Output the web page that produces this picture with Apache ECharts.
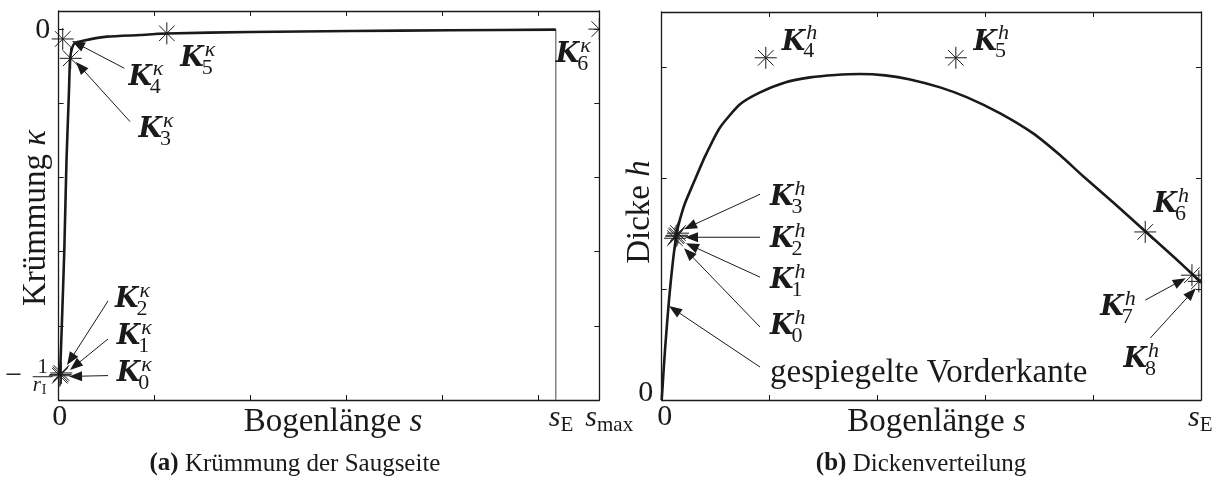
<!DOCTYPE html>
<html><head><meta charset="utf-8">
<script src="https://cdn.jsdelivr.net/npm/echarts@6.0.0/dist/echarts.min.js"></script>
<style>html,body{margin:0;padding:0;background:#fff}#c{width:1223px;height:482px}</style>
</head><body><div id="c"></div>
<script>
// ===== Panel (a): Krümmung der Saugseite (values in tick units) =====
const kapS = [0.0136,0.0345,0.0585,0.0815,0.1076,0.118,0.139,0.170,0.254,0.505,0.850,1.132,2.0,3.044,4.089,5.186];
const kapV = [-4.671,-3.920,-2.977,-1.764,-0.821,-0.416,-0.256,-0.187,-0.156,-0.102,-0.080,-0.059,-0.039,-0.026,-0.016,-0.007];
const kapCtrlS = [0.012,0.020,0.028,0.125,0.042,1.128,5.64];
const kapCtrlV = [-4.673,-4.655,-4.635,-0.394,-0.133,-0.057,0];
const sEA = 5.186, sMaxA = 5.64, invRI = -4.673;

// ===== Panel (b): Dickenverteilung =====
const hS = [0,0.0074,0.0167,0.0306,0.0492,0.0677,0.0863,0.1095,0.139,0.170,0.216,0.290,0.402,0.541,0.726,0.912,1.144,1.376,1.608,1.840,2.072,2.303,2.581,2.832,3.138,3.444,3.695,3.908,4.205,4.483,4.761,5.0];
const hV = [0,0.108,0.252,0.450,0.685,0.901,1.090,1.297,1.505,1.631,1.775,1.946,2.198,2.459,2.667,2.775,2.865,2.910,2.932,2.941,2.928,2.892,2.820,2.730,2.586,2.405,2.207,2.018,1.766,1.523,1.279,1.063];
const hCtrlS = [0.123,0.133,0.142,0.151,0.965,2.727,4.483,4.916,4.98];
const hCtrlV = [1.459,1.477,1.486,1.505,3.087,3.087,1.516,1.126,1.07];
const sEB = 5;

// tick / axis texts
const xTitle = ['Bogenlänge ', 's'];
const yTitleA = ['Krümmung ', 'κ'];
const yTitleB = ['Dicke ', 'h'];
const capA = ['(a)', ' Krümmung der Saugseite'];
const capB = ['(b)', ' Dickenverteilung'];
const vkText = 'gespiegelte Vorderkante';

// annotation anchors (label K-left, label centre, arrow tail, arrow tip) in data units
const annA = [
 ['0', 0.606,-4.648, 0.515,-4.671, 0.108,-4.682],
 ['1', 0.606,-4.156, 0.515,-4.177, 0.118,-4.594],
 ['2', 0.588,-3.651, 0.515,-3.664, 0.087,-4.527],
 ['3', 0.832,-1.360, 0.745,-1.248, 0.180,-0.443],
 ['4', 0.727,-0.659, 0.685,-0.528, 0.139,-0.160],
 ['5', 1.268,-0.403],
 ['6', 5.186,-0.349]
];
const annB = [
 ['0', 1.005,0.658, 0.912,0.658, 0.207,1.369],
 ['1', 1.005,1.072, 0.912,1.108, 0.225,1.414],
 ['2', 1.005,1.441, 0.912,1.468, 0.216,1.468],
 ['3', 1.005,1.820, 0.912,1.856, 0.207,1.541],
 ['4', 1.113,3.225],
 ['5', 2.891,3.225],
 ['6', 4.560,1.757],
 ['7', 4.066,0.829, 4.483,0.901, 4.858,1.099],
 ['8', 4.282,0.360, 4.530,0.559, 4.952,1.009]
];
const vkAnn = [1.005,0.243, 0.912,0.297, 0.068,0.847];

// ===== chart =====
const INK = '#1a1a1a';
const LS = '"Liberation Serif"';
const chart = echarts.init(document.getElementById('c'), null, {renderer:'canvas'});
const mc = document.createElement('canvas').getContext('2d');
function tw(t, f){ mc.font = f; return mc.measureText(t).width; }
const zip = (a,b)=>a.map((v,i)=>[v,b[i]]);

const axisBase = {type:'value', axisLine:{show:true,onZero:false,lineStyle:{color:INK,width:1.3}},
  axisTick:{show:true,inside:true,length:5,lineStyle:{color:INK,width:1}},
  axisLabel:{show:false}, splitLine:{show:false}};
function ax(gi,pos,min,max,interval){ return Object.assign({}, axisBase, {gridIndex:gi, position:pos, min:min, max:max, interval:interval}); }

function starSeries(xi, yi, data){
  return {type:'custom', xAxisIndex:xi, yAxisIndex:yi, data:data, z:4, silent:true,
    renderItem: function(params, api){
      const p = api.coord([api.value(0), api.value(1)]);
      const r = 11, d = 7.8, cs = params.coordSys;
      const L = (x1,y1,x2,y2)=>({type:'line', shape:{x1:p[0]+x1,y1:p[1]+y1,x2:p[0]+x2,y2:p[1]+y2}, style:{stroke:INK,lineWidth:1}});
      return {type:'group', children:[L(-r,0,r,0),L(0,-r,0,r),L(-d,-d,d,d),L(-d,d,d,-d)],
        clipPath:{type:'rect', shape:{x:cs.x-14, y:cs.y-14, width:cs.width+14, height:cs.height+28}}};
    }};
}

chart.setOption({
  animation:false,
  grid:[{left:58.7, top:11, width:540.6, height:389}, {left:661.7, top:12, width:539.3, height:388}],
  xAxis:[ax(0,'bottom',0,sMaxA,1), ax(0,'top',0,sMaxA,1), ax(1,'bottom',0,sEB,1), ax(1,'top',0,sEB,1)],
  yAxis:[ax(0,'left',-5,0.244,1), ax(0,'right',-5,0.244,1), ax(1,'left',0,3.5,1), ax(1,'right',0,3.5,1)],
  series:[
    {type:'line', xAxisIndex:0, yAxisIndex:0, data:zip(kapS,kapV), showSymbol:false, smooth:0.2, lineStyle:{color:INK,width:2.6}, z:3, silent:true},
    {type:'line', xAxisIndex:0, yAxisIndex:0, data:[[sEA,0],[sEA,-5]], showSymbol:false, lineStyle:{color:'#7a7a7a',width:1.4}, z:2, silent:true},
    starSeries(0,0,zip(kapCtrlS,kapCtrlV)),
    {type:'line', xAxisIndex:2, yAxisIndex:2, data:zip(hS,hV), showSymbol:false, smooth:0.2, lineStyle:{color:INK,width:2.6}, z:3, silent:true},
    starSeries(2,2,zip(hCtrlS,hCtrlV))
  ]
});

const pa = (x,y)=>chart.convertToPixel({xAxisIndex:0,yAxisIndex:0},[x,y]);
const pb = (x,y)=>chart.convertToPixel({xAxisIndex:2,yAxisIndex:2},[x,y]);
const G = [];
function T(x, y, text, font, align, extra){
  const e = {type:'text', x:x, y:y, silent:true, z:100, style:{text:text, font:font, fill:INK, textAlign:align||'left', textVerticalAlign:'middle'}};
  if (extra) Object.assign(e, extra);
  G.push(e);
}
function row(cx, cy, pieces){
  let W = 0; pieces.forEach(p=>W += tw(p[0], p[1]));
  let x = cx - W/2;
  pieces.forEach(p=>{ T(x, cy + (p[2]||0), p[0], p[1]); x += tw(p[0], p[1]); });
}
function rrow(cx, cy, pieces){
  let W = 0; pieces.forEach(p=>W += tw(p[0], p[1]));
  let y = cy + W/2;
  pieces.forEach(p=>{ T(cx, y, p[0], p[1], 'left', {rotation:Math.PI/2}); y -= tw(p[0], p[1]); });
}
function arrow(t, h){
  const dx=h[0]-t[0], dy=h[1]-t[1], L=Math.hypot(dx,dy), ux=dx/L, uy=dy/L, hl=13, hw=5;
  const bx=h[0]-ux*hl, by=h[1]-uy*hl;
  G.push({type:'line', silent:true, z:90, shape:{x1:t[0],y1:t[1],x2:bx+ux*2,y2:by+uy*2}, style:{stroke:INK,lineWidth:1}});
  G.push({type:'polygon', silent:true, z:91, shape:{points:[[h[0],h[1]],[bx-uy*hw,by+ux*hw],[bx+uy*hw,by-ux*hw]]}, style:{fill:INK}});
}
function Klab(p, sup, sub){
  const fK = 'italic bold 27px "DejaVu Serif"';
  const w = tw('K', fK);
  T(p[0], p[1], 'K', fK);
  T(p[0] + w + 1, p[1] - 9, sup, 'italic 22px ' + LS);
  T(p[0] + w - 2, p[1] + 9, sub, '22px ' + LS);
}
const F30 = '30px ' + LS, F30i = 'italic 30px ' + LS, F33 = '33px ' + LS, F33i = 'italic 33px ' + LS;
const F21 = '21px ' + LS, F21i = 'italic 21px ' + LS;

annA.forEach(a=>{
  Klab(pa(a[1],a[2]), 'κ', a[0]);
  if (a.length > 3) arrow(pa(a[3],a[4]), pa(a[5],a[6]));
});
annB.forEach(a=>{
  Klab(pb(a[1],a[2]), 'h', a[0]);
  if (a.length > 3) arrow(pb(a[3],a[4]), pb(a[5],a[6]));
});
{ const p = pb(vkAnn[0], vkAnn[1]); T(p[0], p[1], vkText, F33);
  arrow(pb(vkAnn[2], vkAnn[3]), pb(vkAnn[4], vkAnn[5])); }

{ const o = pa(0,-5), z = pa(0,0), r = pa(0,invRI), e = pa(sEA,-5), m = pa(sMaxA,-5);
  T(o[0]+1, o[1]+17, '0', F30, 'center');
  T(z[0]-16, z[1]+1, '0', F30, 'center');
  T(r[0]-45, r[1], '−', F30, 'center');
  T(r[0]-16, r[1]-8, '1', F21, 'center');
  G.push({type:'line', silent:true, shape:{x1:r[0]-26, y1:r[1]+1, x2:r[0]-6, y2:r[1]+1}, style:{stroke:INK, lineWidth:1}});
  T(r[0]-26, r[1]+10, 'r', F21i);
  T(r[0]-26+tw('r',F21i)+1, r[1]+15, 'I', '14px ' + LS);
  const sx = e[0]-7; T(sx, e[1]+18, 's', F30i); T(sx+tw('s',F30i), e[1]+25, 'E', F21);
  const mx = m[0]-14; T(mx, m[1]+18, 's', F30i); T(mx+tw('s',F30i), m[1]+25, 'max', F21);
}
{ const o = pb(0,0), e = pb(sEB,0);
  T(o[0]+3, o[1]+17, '0', F30, 'center');
  T(o[0]-16, o[1]-7, '0', F30, 'center');
  const sx = e[0]-13; T(sx, e[1]+18, 's', F30i); T(sx+tw('s',F30i), e[1]+25, 'E', F21);
}
row(333, 422, [[xTitle[0], F33], [xTitle[1], F33i]]);
row(936.5, 422, [[xTitle[0], F33], [xTitle[1], F33i]]);
rrow(36, 218, [[yTitleA[0], F33], [yTitleA[1], F33i]]);
rrow(640, 212, [[yTitleB[0], F33], [yTitleB[1], F33i]]);
const FC = '25px ' + LS, FCb = 'bold 25px ' + LS;
row(295, 464, [[capA[0], FCb], [capA[1], FC]]);
row(921, 464, [[capB[0], FCb], [capB[1], FC]]);

chart.setOption({graphic: G});
</script></body></html>
